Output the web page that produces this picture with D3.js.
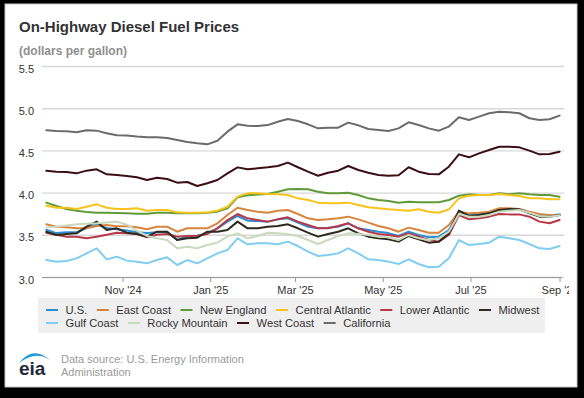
<!DOCTYPE html>
<html>
<head>
<meta charset="utf-8">
<script src="https://cdn.jsdelivr.net/npm/d3@7"></script>
<style>
  html, body { margin: 0; padding: 0; background: #000; }
  svg { display: block; font-family: "Liberation Sans", Arial, sans-serif; }
</style>
</head>
<body>
<script>
const weeks = [
    "2024-09-09", "2024-09-16", "2024-09-23", "2024-09-30", "2024-10-07", "2024-10-14", "2024-10-21", "2024-10-28",
    "2024-11-04", "2024-11-11", "2024-11-18", "2024-11-25", "2024-12-02", "2024-12-09", "2024-12-16", "2024-12-23",
    "2024-12-30", "2025-01-06", "2025-01-13", "2025-01-20", "2025-01-27", "2025-02-03", "2025-02-10", "2025-02-17",
    "2025-02-24", "2025-03-03", "2025-03-10", "2025-03-17", "2025-03-24", "2025-03-31", "2025-04-07", "2025-04-14",
    "2025-04-21", "2025-04-28", "2025-05-05", "2025-05-12", "2025-05-19", "2025-05-26", "2025-06-02", "2025-06-09",
    "2025-06-16", "2025-06-23", "2025-06-30", "2025-07-07", "2025-07-14", "2025-07-21", "2025-07-28", "2025-08-04",
    "2025-08-11", "2025-08-18", "2025-08-25", "2025-09-01"
]

const usPrices = [
    3.56, 3.52, 3.53, 3.53, 3.58, 3.62, 3.58, 3.565, 3.55, 3.53, 3.52, 3.53, 3.535,
    3.44, 3.48, 3.485, 3.52, 3.577, 3.656, 3.723, 3.667, 3.663, 3.656, 3.683, 3.695, 3.644,
    3.596, 3.577, 3.585, 3.596, 3.636, 3.577, 3.557, 3.537, 3.52, 3.486, 3.537, 3.498, 3.47,
    3.478, 3.557, 3.774, 3.735, 3.747, 3.762, 3.802, 3.806, 3.802, 3.762, 3.735, 3.731, 3.742
]
const eastCoast = [
    3.624, 3.596, 3.59, 3.577, 3.577, 3.604, 3.616, 3.60, 3.60, 3.59, 3.565, 3.596, 3.596,
    3.537, 3.577, 3.577, 3.577, 3.636, 3.735, 3.821, 3.794, 3.774, 3.762, 3.786, 3.794, 3.746,
    3.695, 3.675, 3.683, 3.695, 3.715, 3.683, 3.644, 3.605, 3.577, 3.537, 3.585, 3.557, 3.525,
    3.525, 3.616, 3.774, 3.754, 3.762, 3.774, 3.814, 3.814, 3.806, 3.774, 3.746, 3.735, 3.735
]
const newEngland = [
    3.881, 3.841, 3.806, 3.786, 3.77, 3.762, 3.762, 3.758, 3.754, 3.75, 3.75, 3.762, 3.762,
    3.754, 3.754, 3.754, 3.762, 3.774, 3.814, 3.944, 3.968, 3.976, 3.983, 4.011, 4.039, 4.043,
    4.039, 4.011, 3.991, 3.991, 3.999, 3.972, 3.932, 3.912, 3.90, 3.881, 3.893, 3.885, 3.885,
    3.885, 3.912, 3.964, 3.979, 3.972, 3.972, 3.991, 3.98, 3.991, 3.98, 3.972, 3.972, 3.952
]
const centralAtlantic = [
    3.845, 3.821, 3.821, 3.806, 3.833, 3.861, 3.821, 3.806, 3.806, 3.814, 3.786, 3.794, 3.794,
    3.766, 3.762, 3.762, 3.766, 3.786, 3.833, 3.952, 3.991, 3.991, 3.983, 3.98, 3.972, 3.932,
    3.912, 3.881, 3.873, 3.873, 3.881, 3.853, 3.826, 3.814, 3.802, 3.794, 3.786, 3.802, 3.774,
    3.762, 3.802, 3.932, 3.964, 3.972, 3.972, 3.983, 3.972, 3.96, 3.932, 3.932, 3.92, 3.92
]
const lowerAtlantic = [
    3.525, 3.50, 3.478, 3.478, 3.458, 3.478, 3.50, 3.525, 3.517, 3.51, 3.47, 3.50, 3.51,
    3.478, 3.486, 3.49, 3.51, 3.577, 3.675, 3.746, 3.695, 3.675, 3.656, 3.683, 3.707, 3.656,
    3.616, 3.577, 3.577, 3.604, 3.636, 3.577, 3.537, 3.51, 3.498, 3.478, 3.517, 3.478, 3.438,
    3.419, 3.498, 3.735, 3.683, 3.695, 3.715, 3.746, 3.742, 3.742, 3.715, 3.656, 3.636, 3.675
]
const midwest = [
    3.537, 3.498, 3.51, 3.517, 3.596, 3.656, 3.557, 3.577, 3.525, 3.51, 3.478, 3.537, 3.537,
    3.438, 3.458, 3.466, 3.537, 3.537, 3.557, 3.656, 3.577, 3.577, 3.596, 3.604, 3.624, 3.577,
    3.525, 3.478, 3.51, 3.537, 3.577, 3.517, 3.478, 3.458, 3.446, 3.419, 3.486, 3.446, 3.407,
    3.419, 3.517, 3.786, 3.723, 3.735, 3.754, 3.794, 3.806, 3.802, 3.754, 3.715, 3.715, 3.735
]
const gulfCoast = [
    3.201, 3.182, 3.19, 3.221, 3.28, 3.34, 3.209, 3.241, 3.194, 3.182, 3.162, 3.201, 3.233,
    3.142, 3.201, 3.162, 3.221, 3.28, 3.32, 3.458, 3.387, 3.399, 3.399, 3.387, 3.419, 3.367,
    3.30, 3.249, 3.261, 3.28, 3.34, 3.28, 3.209, 3.201, 3.182, 3.154, 3.209, 3.154, 3.115,
    3.122, 3.221, 3.438, 3.379, 3.39, 3.407, 3.478, 3.46, 3.438, 3.391, 3.34, 3.332, 3.367
]
const rockyMountain = [
    3.588, 3.596, 3.61, 3.624, 3.63, 3.636, 3.645, 3.656, 3.62, 3.55, 3.486, 3.458, 3.438,
    3.34, 3.359, 3.34, 3.379, 3.407, 3.478, 3.517, 3.458, 3.486, 3.525, 3.517, 3.506, 3.486,
    3.438, 3.391, 3.438, 3.486, 3.517, 3.509, 3.498, 3.478, 3.47, 3.438, 3.498, 3.458, 3.438,
    3.458, 3.537, 3.746, 3.715, 3.715, 3.735, 3.774, 3.786, 3.794, 3.762, 3.723, 3.715, 3.731
]
const westCoast = [
    4.26, 4.248, 4.244, 4.228, 4.26, 4.276, 4.216, 4.209, 4.197, 4.181, 4.149, 4.177, 4.161,
    4.118, 4.126, 4.078, 4.11, 4.149, 4.228, 4.299, 4.276, 4.288, 4.30, 4.315, 4.355, 4.30,
    4.248, 4.20, 4.236, 4.26, 4.315, 4.268, 4.236, 4.209, 4.20, 4.205, 4.30, 4.248, 4.22,
    4.216, 4.307, 4.453, 4.418, 4.465, 4.505, 4.544, 4.544, 4.536, 4.497, 4.453, 4.457, 4.485
]
const california = [
    4.738, 4.730, 4.727, 4.714, 4.738, 4.734, 4.703, 4.68, 4.676, 4.664, 4.656, 4.656, 4.647,
    4.624, 4.60, 4.584, 4.572, 4.615, 4.722, 4.809, 4.793, 4.789, 4.80, 4.84, 4.872, 4.848,
    4.809, 4.761, 4.769, 4.769, 4.829, 4.797, 4.754, 4.742, 4.73, 4.761, 4.833, 4.801, 4.761,
    4.734, 4.782, 4.893, 4.861, 4.90, 4.94, 4.959, 4.951, 4.94, 4.881, 4.861, 4.869, 4.912
]

const seriesNames = ["U.S.", "East Coast", "New England", "Central Atlantic", "Lower Atlantic",
    "Midwest", "Gulf Coast", "Rocky Mountain", "West Coast", "California"]
const seriesValues = [usPrices, eastCoast, newEngland, centralAtlantic, lowerAtlantic,
    midwest, gulfCoast, rockyMountain, westCoast, california]
const seriesColors = ["#2a8fd2", "#d8843e", "#5f9b38", "#f7c31c", "#b8384a",
    "#2e2a1e", "#80cdf2", "#c8d9bd", "#3b0e15", "#6b6b6b"]

const yTicks = [3.0, 3.5, 4.0, 4.5, 5.0, 5.5]

const chart = () => {
    const W = 584, H = 398
    const margin = { left: 42, right: 564, top: 66, bottom: 277 }
    const parse = d3.timeParse("%Y-%m-%d")
    const dates = weeks.map(parse)

    const series = seriesNames.map((name, i) => ({
        name,
        color: seriesColors[i],
        points: seriesValues[i].map((v, j) => ({ date: dates[j], value: v }))
    }))

    const x = d3.scaleTime()
        .domain([parse("2024-09-06"), parse("2025-09-02")])
        .range([margin.left, 561])
    const y = d3.scaleLinear()
        .domain([3.0, 5.5])
        .range([margin.bottom, margin.top])

    const svg = d3.select("body").append("svg")
        .attr("width", W)
        .attr("height", H)

    svg.append("rect")
        .attr("x", 5).attr("y", 4)
        .attr("width", 572).attr("height", 383)
        .attr("fill", "#fff")
        .attr("stroke", "#c8c8c8")

    svg.append("defs").append("clipPath")
        .attr("id", "panel-clip")
        .append("rect")
        .attr("x", 0).attr("y", 0)
        .attr("width", 569).attr("height", H)

    svg.append("text")
        .attr("x", 19).attr("y", 32)
        .attr("font-size", 15)
        .attr("font-weight", "bold")
        .attr("fill", "#333")
        .text("On-Highway Diesel Fuel Prices")

    svg.append("text")
        .attr("x", 19).attr("y", 54.5)
        .attr("font-size", 12)
        .attr("font-weight", "bold")
        .attr("fill", "#8f8f8f")
        .text("(dollars per gallon)")

    // horizontal grid + y labels
    const yAxis = svg.append("g")
        .attr("transform", `translate(${margin.left},0)`)
        .call(d3.axisLeft(y).tickValues(yTicks).tickFormat(d3.format(".1f"))
            .tickSize(-(margin.right - margin.left)).tickPadding(8))
    yAxis.select(".domain").remove()
    yAxis.selectAll(".tick line")
        .attr("stroke", "#d8d8d8")
        .attr("stroke-width", 1.4)
    yAxis.selectAll(".tick text")
        .attr("dy", "0.55em")
        .attr("font-size", 11)
        .attr("font-family", "Liberation Sans, Arial, sans-serif")
        .attr("fill", "#333")

    const xAxis = svg.append("g")
        .attr("transform", `translate(0,${margin.bottom})`)
        .attr("clip-path", "url(#panel-clip)")
        .call(d3.axisBottom(x).ticks(d3.timeMonth.every(2)).tickFormat(d3.timeFormat("%b '%y"))
            .tickSizeOuter(0).tickSize(5).tickPadding(4))
    xAxis.select(".domain")
        .attr("stroke", "#999")
        .attr("d", `M${margin.left},0.5H562`)
    xAxis.selectAll(".tick line").attr("stroke", "#999")
    xAxis.selectAll(".tick text")
        .attr("font-size", 11)
        .attr("font-family", "Liberation Sans, Arial, sans-serif")
        .attr("fill", "#333")

    const line = d3.line()
        .x(d => x(d.date))
        .y(d => y(d.value))

    svg.append("g")
        .attr("fill", "none")
        .attr("stroke-width", 2)
        .attr("stroke-linejoin", "round")
        .attr("stroke-linecap", "round")
        .selectAll("path")
        .data(series)
        .join("path")
        .attr("stroke", d => d.color)
        .attr("d", d => line(d.points))

    // legend
    const legendBox = { x: 38, y: 298, w: 507, h: 35 }
    svg.append("rect")
        .attr("x", legendBox.x).attr("y", legendBox.y)
        .attr("width", legendBox.w).attr("height", legendBox.h)
        .attr("fill", "#efefef")

    const legend = svg.append("g")
        .attr("font-size", 11.2)
        .attr("fill", "#333")
    let lx = 46, row = 0
    series.forEach((s) => {
        const item = legend.append("g")
        const label = item.append("text")
            .attr("x", 19.5)
            .text(s.name)
        const textW = label.node().getComputedTextLength()
        if (lx + 19.5 + textW > legendBox.x + legendBox.w - 4) { lx = 46; row += 1 }
        item.attr("transform", `translate(${lx},${314 + row * 13})`)
        item.append("line")
            .attr("x1", 0).attr("x2", 12)
            .attr("y1", -4).attr("y2", -4)
            .attr("stroke", s.color)
            .attr("stroke-width", 2)
        lx += 19.5 + textW + 9.5
    })

    // eia logo and source note
    svg.append("path")
        .attr("d", "M19,363 Q33,345 50,360 Q36,350 19,363 Z")
        .attr("fill", "#1c9ad6")
    svg.append("text")
        .attr("x", 19).attr("y", 374.5)
        .attr("font-size", 19)
        .attr("font-weight", "bold")
        .attr("fill", "#1e2a3a")
        .text("eia")

    svg.append("text")
        .attr("x", 61).attr("y", 363)
        .attr("font-size", 11)
        .attr("fill", "#9a9a9a")
        .text("Data source: U.S. Energy Information")
    svg.append("text")
        .attr("x", 61).attr("y", 376)
        .attr("font-size", 11)
        .attr("fill", "#9a9a9a")
        .text("Administration")

    return svg.node()
}

chart()
</script>
</body>
</html>
